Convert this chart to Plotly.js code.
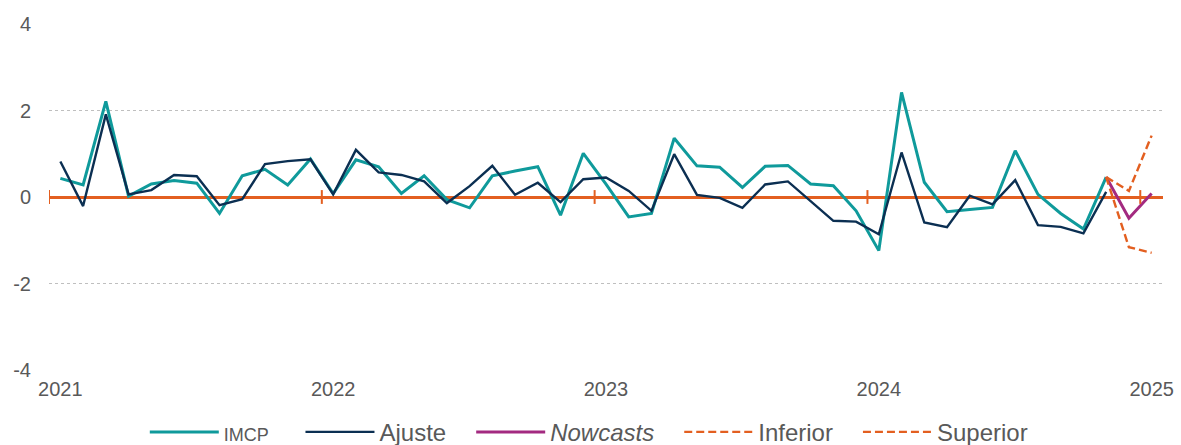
<!DOCTYPE html>
<html>
<head>
<meta charset="utf-8">
<script src="https://cdn.plot.ly/plotly-3.0.1.min.js"></script>
<style>
  html, body { margin: 0; padding: 0; background: #ffffff; }
  #chart { width: 1181px; height: 445px; }
</style>
</head>
<body>
<div id="chart"></div>
<script>
// Monthly categories, Jan 2021 - Jan 2025
var months = [
  "2021-01","2021-02","2021-03","2021-04","2021-05","2021-06","2021-07","2021-08","2021-09","2021-10","2021-11","2021-12",
  "2022-01","2022-02","2022-03","2022-04","2022-05","2022-06","2022-07","2022-08","2022-09","2022-10","2022-11","2022-12",
  "2023-01","2023-02","2023-03","2023-04","2023-05","2023-06","2023-07","2023-08","2023-09","2023-10","2023-11","2023-12",
  "2024-01","2024-02","2024-03","2024-04","2024-05","2024-06","2024-07","2024-08","2024-09","2024-10","2024-11","2024-12",
  "2025-01"
];

// IMCP (observed), Jan 2021 - Nov 2024
var imcp = [0.43, 0.28, 2.21, 0.02, 0.30, 0.38, 0.32, -0.38, 0.49, 0.64, 0.28, 0.88,
            0.08, 0.86, 0.70, 0.08, 0.49, -0.06, -0.25, 0.49, 0.60, 0.70, -0.42, 1.01,
            0.30, -0.46, -0.38, 1.36, 0.72, 0.69, 0.22, 0.71, 0.73, 0.30, 0.26, -0.32,
            -1.24, 2.42, 0.34, -0.34, -0.29, -0.24, 1.07, 0.06, -0.38, -0.74, 0.46];

// Ajuste (fitted), Jan 2021 - Nov 2024
var ajuste = [0.82, -0.21, 1.91, 0.06, 0.16, 0.51, 0.48, -0.19, -0.05, 0.76, 0.83, 0.87,
              0.06, 1.09, 0.57, 0.51, 0.36, -0.14, 0.25, 0.72, 0.05, 0.33, -0.12, 0.41,
              0.45, 0.14, -0.32, 0.99, 0.05, -0.02, -0.25, 0.29, 0.36, -0.10, -0.55, -0.57,
              -0.86, 1.03, -0.59, -0.70, 0.03, -0.17, 0.39, -0.65, -0.69, -0.84, 0.12];

// Nowcasts and bands, Nov 2024 - Jan 2025
var nowcastMonths = ["2024-11","2024-12","2025-01"];
var nowcasts = [0.46, -0.49, 0.08];
var inferior = [0.46, -1.16, -1.29];
var superior = [0.46, 0.14, 1.42];

// Axis labels
var yearTickCats = ["2021-01","2022-01","2023-01","2024-01","2025-01"];
var yearTickText = ["2021","2022","2023","2024","2025"];
var yTickVals = [-4, -2, 0, 2, 4];
var yTickText = ["-4", "-2", "0", "2", "4"];

var TEAL = "#0F9A9B", NAVY = "#0B2F52", PURPLE = "#A32A80", ORANGE = "#E35F20";
var GREY = "#595959";
var NB = "\u00A0";
function pad(n) { var s = ""; for (var i = 0; i < n; i++) s += NB; return s; }

var traces = [
  { x: months.slice(0, imcp.length), y: imcp, type: "scatter", mode: "lines",
    name: '<span style="font-size:18px">IMCP</span>' + pad(4),
    line: { color: TEAL, width: 3 } },
  { x: months.slice(0, ajuste.length), y: ajuste, type: "scatter", mode: "lines",
    name: "Ajuste" + pad(3),
    line: { color: NAVY, width: 2.4 } },
  { x: nowcastMonths, y: nowcasts, type: "scatter", mode: "lines",
    name: "<i>Nowcasts</i>" + pad(3),
    line: { color: PURPLE, width: 3 } },
  { x: nowcastMonths, y: inferior, type: "scatter", mode: "lines",
    name: "Inferior" + pad(3),
    line: { color: ORANGE, width: 2.4, dash: "8px,4px" } },
  { x: nowcastMonths, y: superior, type: "scatter", mode: "lines",
    name: "Superior",
    line: { color: ORANGE, width: 2.4, dash: "8px,4px" } }
];

// small orange ticks on the zero line at each year boundary
var shapes = yearTickCats.map(function (c) {
  var xi = months.indexOf(c) - 0.5;
  return { type: "line", xref: "x", yref: "y", x0: xi, x1: xi, y0: -0.16, y1: 0.16,
           line: { color: ORANGE, width: 2 } };
});

var layout = {
  width: 1181, height: 445,
  margin: { l: 49, r: 18, t: 24, b: 75, autoexpand: false },
  paper_bgcolor: "#ffffff", plot_bgcolor: "#ffffff",
  font: { family: "Liberation Sans, Arial, sans-serif", color: GREY, size: 20 },
  showlegend: true,
  legend: {
    orientation: "h", xanchor: "left", yanchor: "top",
    x: 0.086, y: -0.115,
    itemwidth: 69,
    font: { size: 24, color: GREY },
    bgcolor: "rgba(0,0,0,0)",
    traceorder: "normal"
  },
  xaxis: {
    type: "category",
    categoryorder: "array", categoryarray: months,
    range: [-0.5, months.length - 0.5],
    showgrid: false, zeroline: false, showline: false, ticks: "",
    tickmode: "array", tickvals: yearTickCats, ticktext: yearTickText,
    ticklabelstandoff: 5,
    tickfont: { size: 20, color: GREY },
    fixedrange: true
  },
  yaxis: {
    range: [-4, 4],
    tickmode: "array", tickvals: yTickVals, ticktext: yTickText,
    showgrid: true, gridcolor: "#BFBFBF", gridwidth: 1, griddash: "dot",
    zeroline: true, zerolinecolor: ORANGE, zerolinewidth: 3,
    showline: false, ticks: "",
    ticklabelstandoff: 17,
    tickfont: { size: 20, color: GREY },
    fixedrange: true
  },
  shapes: shapes
};

Plotly.newPlot("chart", traces, layout, { displayModeBar: false, staticPlot: true });
</script>
</body>
</html>
